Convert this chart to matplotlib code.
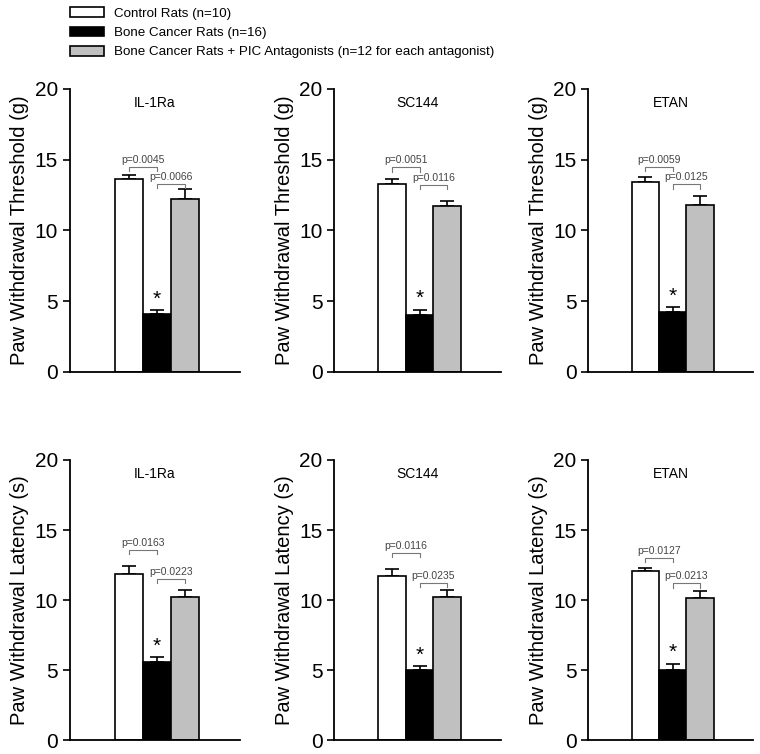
import matplotlib
matplotlib.use("Agg")
import matplotlib.pyplot as plt
from matplotlib.patches import Patch

plt.rcParams["font.family"] = ["Liberation Sans", "DejaVu Sans"]

# groups: control, bone cancer, bone cancer + antagonist
drugs = ["IL-1Ra", "SC144", "ETAN"]
group_labels = ["Control Rats (n=10)",
                "Bone Cancer Rats (n=16)",
                "Bone Cancer Rats + PIC Antagonists (n=12 for each antagonist)"]
group_colors = ["white", "black", "#c0c0c0"]

# mechanical threshold (g)
thr_mean = [[13.6, 4.05, 12.2], [13.3, 4.0, 11.7], [13.45, 4.25, 11.8]]
thr_err = [[0.3, 0.3, 0.75], [0.3, 0.4, 0.35], [0.3, 0.3, 0.6]]
thr_p = [["p=0.0045", "p=0.0066"], ["p=0.0051", "p=0.0116"], ["p=0.0059", "p=0.0125"]]
thr_brk = [[14.5, 13.3], [14.45, 13.2], [14.5, 13.25]]

# thermal latency (s)
lat_mean = [[11.85, 5.6, 10.25], [11.7, 5.0, 10.25], [12.05, 5.0, 10.15]]
lat_err = [[0.6, 0.35, 0.5], [0.55, 0.3, 0.5], [0.25, 0.48, 0.5]]
lat_p = [["p=0.0163", "p=0.0223"], ["p=0.0116", "p=0.0235"], ["p=0.0127", "p=0.0213"]]
lat_brk = [[13.6, 11.5], [13.35, 11.25], [13.0, 11.2]]

fig = plt.figure(figsize=(7.6, 7.54), dpi=100)

col_left = [0.092, 0.440, 0.774]
col_width = [0.224, 0.219, 0.217]
rows = [
    (0.507, 0.375, thr_mean, thr_err, thr_p, thr_brk, "Paw Withdrawal Threshold (g)"),
    (0.018, 0.372, lat_mean, lat_err, lat_p, lat_brk, "Paw Withdrawal Latency (s)"),
]

x = [0, 1, 2]
for bottom, height, means, errs, pvals, brks, ylab in rows:
    for i, drug in enumerate(drugs):
        ax = fig.add_axes([col_left[i], bottom, col_width[i], height])
        ax.bar(x, means[i], width=1.0, color=group_colors, edgecolor="black",
               linewidth=1.2, zorder=2)
        ax.errorbar(x, means[i], yerr=[[0, 0, 0], errs[i]], fmt="none",
                    ecolor="black", elinewidth=1.2, capsize=5, capthick=1.2, zorder=1)
        # brackets with p values
        for k in range(2):
            yb = brks[i][k]
            ax.plot([k, k, k + 1, k + 1], [yb - 0.3, yb, yb, yb - 0.3],
                    color="#777777", linewidth=0.8)
            ax.text(k + 0.5, yb + 0.15, pvals[i][k], ha="center", va="bottom",
                    fontsize=7.5, color="#444444")
        ax.text(1, means[i][1] + errs[i][1] + 0.1, "*", ha="center", va="bottom",
                fontsize=15)
        ax.text(0.5, 0.975, drug, transform=ax.transAxes, ha="center", va="top",
                fontsize=10)
        ax.set_xlim(-2.1, 3.95)
        ax.set_ylim(0, 20)
        ax.set_yticks([0, 5, 10, 15, 20])
        ax.set_xticks([])
        ax.tick_params(axis="y", labelsize=15, length=5, width=1.2, direction="out")
        ax.set_ylabel(ylab, fontsize=14.5, labelpad=4)
        for s in ["top", "right"]:
            ax.spines[s].set_visible(False)
        for s in ["left", "bottom"]:
            ax.spines[s].set_linewidth(1.3)

handles = [Patch(facecolor=c, edgecolor="black", linewidth=1.2) for c in group_colors]
fig.legend(handles, group_labels, loc="upper left", bbox_to_anchor=(0.083, 0.999),
           frameon=False, fontsize=9.6, handlelength=2.6, handleheight=0.75,
           labelspacing=0.5, handletextpad=0.75, borderaxespad=0.1)

fig.savefig("out.png", dpi=100)
